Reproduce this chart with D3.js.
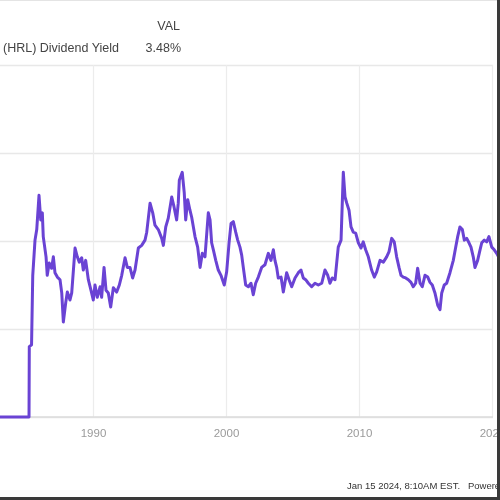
<!DOCTYPE html>
<html>
<head>
<meta charset="utf-8">
<script src="https://cdn.jsdelivr.net/npm/d3@7"></script>
<style>
  html, body { margin: 0; padding: 0; background: #fff; }
  svg { display: block; filter: blur(0.7px); }
</style>
</head>
<body>
<svg id="chart" width="500" height="500"></svg>
<script>
// ---- data ----
const seriesName = "Hormel Foods Corp (HRL) Dividend Yield";
const currentValue = "3.48%";
const valHeader = "VAL";
const footerText = "Jan 15 2024, 8:10AM EST.   Powered by YCHARTS";
const xTickYears = [1990, 2000, 2010, 2020];
const yTickValues = [0, 1, 2, 3, 4];

const years = [
  1983.0, 1985.19, 1985.21, 1985.38, 1985.47, 1985.64, 1985.77, 1985.94, 1986.07, 1986.19,
  1986.26, 1986.47, 1986.56, 1986.71, 1986.89, 1987.02, 1987.14, 1987.32, 1987.52, 1987.65,
  1987.77, 1987.95, 1988.07, 1988.27, 1988.40, 1988.65, 1988.82, 1988.97, 1989.15, 1989.27,
  1989.45, 1989.65, 1989.85, 1990.02, 1990.15, 1990.32, 1990.53, 1990.65, 1990.83, 1990.98,
  1991.15, 1991.33, 1991.53, 1991.78, 1991.98, 1992.16, 1992.41, 1992.58, 1992.78, 1992.98,
  1993.16, 1993.41, 1993.66, 1993.91, 1994.04, 1994.29, 1994.49, 1994.66, 1994.91, 1995.17,
  1995.29, 1995.47, 1995.66, 1995.92, 1996.09, 1996.29, 1996.41, 1996.49, 1996.71, 1996.86,
  1996.97, 1997.12, 1997.29, 1997.42, 1997.67, 1997.87, 1998.05, 1998.22, 1998.42, 1998.67,
  1998.80, 1998.92, 1999.05, 1999.23, 1999.42, 1999.62, 1999.87, 2000.05, 2000.23, 2000.38,
  2000.55, 2000.73, 2000.88, 2001.05, 2001.18, 2001.30, 2001.48, 2001.68, 2001.88, 2002.05,
  2002.23, 2002.43, 2002.68, 2002.93, 2003.18, 2003.38, 2003.56, 2003.68, 2003.81, 2003.93,
  2004.14, 2004.31, 2004.56, 2004.74, 2004.94, 2005.19, 2005.44, 2005.64, 2005.81, 2005.99,
  2006.19, 2006.44, 2006.69, 2006.94, 2007.20, 2007.44, 2007.65, 2007.82, 2007.99, 2008.20,
  2008.44, 2008.65, 2008.82, 2008.95, 2009.08, 2009.25, 2009.40, 2009.57, 2009.75, 2009.95,
  2010.15, 2010.32, 2010.50, 2010.70, 2010.95, 2011.15, 2011.33, 2011.58, 2011.83, 2012.08,
  2012.26, 2012.46, 2012.65, 2012.83, 2013.01, 2013.16, 2013.33, 2013.51, 2013.71, 2013.91,
  2014.08, 2014.26, 2014.41, 2014.59, 2014.76, 2014.96, 2015.17, 2015.34, 2015.51, 2015.71,
  2015.92, 2016.09, 2016.22, 2016.41, 2016.59, 2016.84, 2017.09, 2017.27, 2017.42, 2017.59,
  2017.77, 2017.92, 2018.10, 2018.27, 2018.42, 2018.59, 2018.72, 2018.92, 2019.10, 2019.23,
  2019.42, 2019.60, 2019.77, 2019.98, 2020.17, 2020.35, 2020.53
];
const yields = [
  0.00, 0.00, 0.80, 0.82, 1.61, 2.01, 2.13, 2.52, 2.24, 2.32,
  2.05, 1.82, 1.61, 1.75, 1.69, 1.82, 1.64, 1.59, 1.56, 1.41,
  1.08, 1.30, 1.42, 1.33, 1.41, 1.92, 1.82, 1.76, 1.81, 1.67,
  1.78, 1.56, 1.44, 1.33, 1.50, 1.36, 1.48, 1.36, 1.70, 1.44,
  1.41, 1.25, 1.47, 1.42, 1.50, 1.61, 1.81, 1.70, 1.70, 1.58,
  1.67, 1.92, 1.95, 2.01, 2.10, 2.43, 2.32, 2.18, 2.13, 2.03,
  1.95, 2.16, 2.26, 2.50, 2.39, 2.24, 2.43, 2.69, 2.78, 2.55,
  2.24, 2.47, 2.35, 2.27, 2.05, 1.93, 1.70, 1.86, 1.82, 2.32,
  2.24, 1.98, 1.90, 1.78, 1.67, 1.61, 1.50, 1.65, 1.98, 2.20,
  2.22, 2.10, 2.01, 1.93, 1.84, 1.70, 1.50, 1.48, 1.52, 1.39,
  1.52, 1.59, 1.70, 1.73, 1.86, 1.78, 1.90, 1.78, 1.70, 1.58,
  1.59, 1.42, 1.64, 1.56, 1.48, 1.58, 1.64, 1.67, 1.58, 1.56,
  1.52, 1.48, 1.52, 1.50, 1.52, 1.67, 1.61, 1.52, 1.58, 1.56,
  1.93, 2.01, 2.78, 2.50, 2.43, 2.35, 2.16, 2.10, 2.09, 1.98,
  1.92, 1.99, 1.90, 1.82, 1.67, 1.59, 1.65, 1.78, 1.76, 1.82,
  1.88, 2.03, 1.99, 1.82, 1.70, 1.61, 1.59, 1.58, 1.56, 1.53,
  1.48, 1.52, 1.69, 1.52, 1.48, 1.61, 1.59, 1.53, 1.50, 1.41,
  1.27, 1.22, 1.41, 1.50, 1.52, 1.64, 1.78, 1.93, 2.05, 2.16,
  2.13, 2.01, 2.03, 1.98, 1.93, 1.82, 1.70, 1.78, 1.90, 1.98,
  2.01, 1.99, 2.05, 1.93, 1.90, 1.86, 1.81
];

// ---- drawing ----
const svg = d3.select("#chart");
const x = d3.scaleLinear().domain([1990, 2020]).range([93, 492]);
const y = d3.scaleLinear().domain([0, 4]).range([417, 65]);
const font = "Liberation Sans, Arial, sans-serif";

// top thin rule
svg.append("line").attr("x1", 0).attr("x2", 500).attr("y1", 0.5).attr("y2", 0.5)
  .attr("stroke", "#e4e4e4").attr("stroke-width", 1);

// horizontal gridlines
const yAxis = d3.axisLeft(y).tickValues(yTickValues).tickSize(-493).tickFormat("");
svg.append("g").call(yAxis)
  .call(g => g.select(".domain").remove())
  .call(g => g.selectAll(".tick line").attr("stroke", "#e8e8e8").attr("stroke-width", 1.5));

// vertical gridlines + labels
const xAxis = d3.axisBottom(x).tickValues(xTickYears).tickSize(-(417 - 65)).tickPadding(12)
  .tickFormat(d3.format("d"));
const gx = svg.append("g").attr("transform", "translate(0,417)").call(xAxis);
gx.select(".domain").remove();
gx.selectAll(".tick line").attr("stroke", "#ececec").attr("stroke-width", 1.2);
gx.selectAll(".tick text").attr("fill", "#9a9a9a").attr("font-size", 11.5)
  .attr("font-family", font);

// bottom axis line
svg.append("line").attr("x1", 0).attr("x2", 493).attr("y1", y(0)).attr("y2", y(0))
  .attr("stroke", "#dcdcdc").attr("stroke-width", 1.5);

// series line
const data = years.map((yr, i) => ({ yr, v: yields[i] }));
const line = d3.line().x(d => x(d.yr)).y(d => y(d.v)).curve(d3.curveLinear);
svg.append("path").datum(data).attr("d", line)
  .attr("fill", "none").attr("stroke", "#6a43d4").attr("stroke-width", 3)
  .attr("stroke-linejoin", "round");

// legend texts
svg.append("text").attr("x", 180).attr("y", 30).attr("text-anchor", "end")
  .attr("font-family", font).attr("font-size", 12.5).attr("fill", "#444").text(valHeader);
svg.append("text").attr("x", 119).attr("y", 52).attr("text-anchor", "end")
  .attr("font-family", font).attr("font-size", 12.5).attr("fill", "#444").text(seriesName);
svg.append("text").attr("x", 181).attr("y", 52).attr("text-anchor", "end")
  .attr("font-family", font).attr("font-size", 12.5).attr("fill", "#444").text(currentValue);

// footer
svg.append("text").attr("x", 347).attr("y", 489)
  .attr("font-family", font).attr("font-size", 9.5).attr("fill", "#333")
  .style("white-space", "pre").text(footerText);

// dark frame on right and bottom edges
svg.append("rect").attr("x", 497).attr("y", 0).attr("width", 3).attr("height", 500).attr("fill", "#3a3a3a");
svg.append("rect").attr("x", 0).attr("y", 497).attr("width", 500).attr("height", 3).attr("fill", "#3a3a3a");
</script>
</body>
</html>
